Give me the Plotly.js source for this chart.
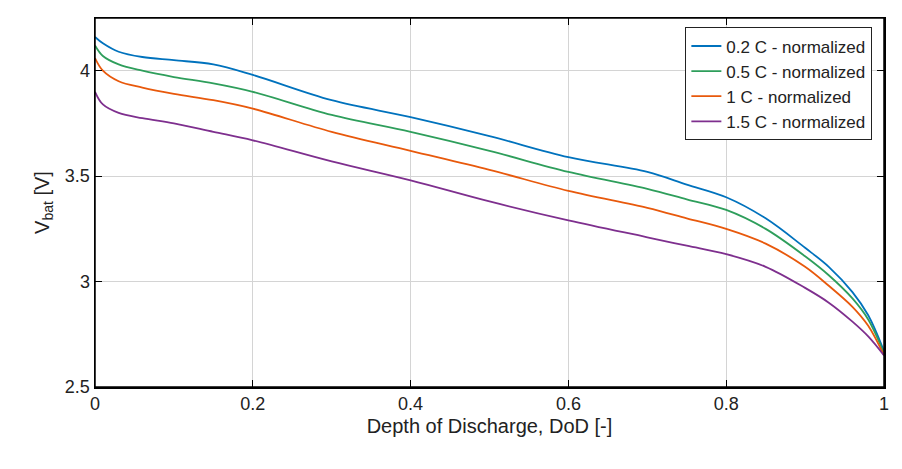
<!DOCTYPE html>
<html><head><script src="https://cdn.plot.ly/plotly-3.0.1.min.js"></script></head>
<body style="margin:0"><div id="c" style="width:902px;height:469px"></div>
<script>
const dod = [0,0.01,0.03,0.06,0.1,0.15,0.2,0.3,0.4,0.5,0.6,0.7,0.75,0.8,0.85,0.9,0.93,0.96,0.98,1];
const v02 = [4.16,4.13,4.09,4.065,4.05,4.03,3.98,3.86,3.78,3.69,3.59,3.52,3.46,3.40,3.30,3.16,3.07,2.95,2.84,2.67];
const v05 = [4.12,4.07,4.03,4.00,3.97,3.94,3.90,3.79,3.71,3.62,3.52,3.44,3.39,3.34,3.25,3.12,3.03,2.92,2.82,2.66];
const v10 = [4.06,4.00,3.95,3.92,3.89,3.86,3.82,3.71,3.62,3.53,3.43,3.35,3.30,3.25,3.18,3.07,2.98,2.88,2.79,2.65];
const v15 = [3.90,3.84,3.80,3.775,3.75,3.71,3.67,3.57,3.48,3.38,3.29,3.21,3.17,3.13,3.07,2.97,2.90,2.81,2.74,2.65];
const names = ['0.2 C - normalized','0.5 C - normalized','1 C - normalized','1.5 C - normalized'];
const colors = ['#0072BD','#2E9E5B','#E8590C','#7E2F8E'];
const series=[v02,v05,v10,v15];
const data = series.map((v,i)=>({x:dod,y:v,name:names[i],mode:'lines',line:{color:colors[i],width:1.8,shape:'spline',smoothing:1}}));
const ax={showline:true,mirror:'allticks',linecolor:'#000',linewidth:1.5,ticks:'inside',ticklen:7,tickcolor:'#000',gridcolor:'#d4d4d4',zeroline:false,tickfont:{size:18,color:'#222'}};
Plotly.newPlot('c',data,{
 width:902,height:469,margin:{l:95,r:18,t:18,b:82},
 font:{family:'Liberation Sans, Arial',color:'#222',size:18},
 plot_bgcolor:'#fff',paper_bgcolor:'#fff',
 xaxis:Object.assign({},ax,{range:[0,1],tickvals:[0,0.2,0.4,0.6,0.8,1],ticktext:['0','0.2','0.4','0.6','0.8','1'],title:{text:'Depth of Discharge, DoD [-]',font:{size:20},standoff:6}}),
 yaxis:Object.assign({},ax,{range:[2.5,4.25],tickvals:[2.5,3,3.5,4],ticktext:['2.5','3','3.5','4'],title:{text:'V<sub>bat</sub> [V]',font:{size:20},standoff:10}}),
 shapes:[{type:'rect',xref:'paper',yref:'paper',x0:0,x1:1,y0:0,y1:1,line:{color:'#000',width:1.5}}],
 legend:{x:0.985,y:0.975,xanchor:'right',yanchor:'top',bordercolor:'#222',borderwidth:1.2,bgcolor:'#fff',font:{size:17},tracegroupgap:0},
 showlegend:true
},{staticPlot:true});
</script></body></html>
